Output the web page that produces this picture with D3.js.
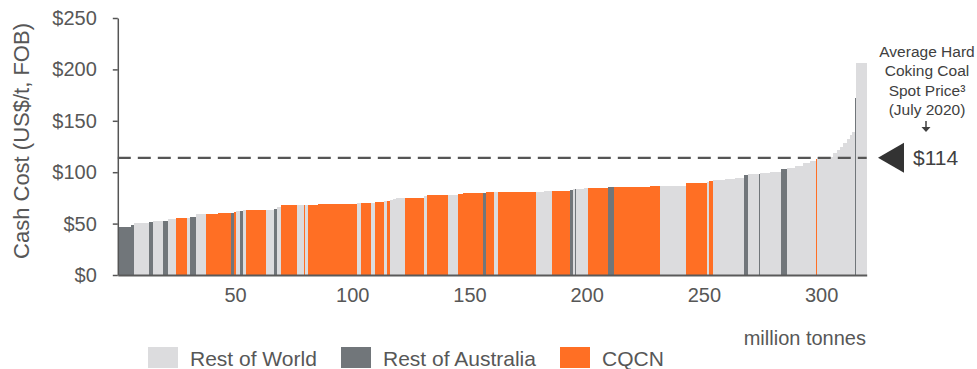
<!DOCTYPE html>
<html>
<head>
<meta charset="utf-8">
<script src="https://cdn.jsdelivr.net/npm/d3@7"></script>
<style>
  html, body { margin: 0; padding: 0; background: #fff; }
  svg { display: block; font-family: "Liberation Sans", Arial, sans-serif; }
</style>
</head>
<body>
<svg id="chart" width="977" height="369"></svg>
<script>
// ---- data ----
const categories = ["Rest of World", "Rest of Australia", "CQCN"];
const categoryCodes = ["W", "A", "C"];
// per-bar: category code, width (million tonnes), cash cost (US$/t FOB)
const barGroup = ["A","A","W","A","W","A","W","C","W","A","W","C","C","A","C","W","A","W","C","W","A","W","C","W","C","W","C","C","W","C","W","C","W","C","W","W","W","C","W","C","W","C","C","A","C","W","C","W","W","C","A","W","A","W","W","C","A","C","C","W","C","W","C","W","W","W","A","W","A","W","W","A","W","W","W","W","C","W","W","W","W","W","W","W","W","A","W"];
const barWidth = [5.6,1.3,6.4,1.6,4.5,2.0,3.4,4.7,1.3,2.4,4.4,5.2,5.4,1.3,0.9,1.7,1.3,1.3,8.5,3.4,1.3,1.7,6.7,3.1,0.55,1.15,4.4,16.4,1.7,4.4,1.7,3.8,1.15,1.4,1.3,1.3,3.8,8.1,1.15,9.1,4.3,2.3,8.3,1.4,3.4,1.7,16.2,3.4,3.4,7.7,1.4,0.6,0.55,3.4,1.7,8.5,2.6,15.4,4.3,11.0,9.1,0.7,1.7,5.2,4.3,3.7,1.7,4.8,0.45,4.3,4.7,2.4,3.5,3.4,3.0,2.4,0.45,7.1,1.45,1.4,1.4,1.45,1.4,0.7,1.4,0.3,4.7];
const barCost = [46.7,48.6,50.9,51.9,52.9,52.9,54.8,55.8,55.8,56.7,59.3,59.7,60.6,60.6,61.6,62.6,62.6,63.5,63.5,63.5,64.5,66.5,68.1,68.1,68.1,68.1,68.1,69.1,69.7,70.3,70.3,71.3,72.3,72.3,73,74,74.9,75.2,77.2,78.1,78.1,79.1,79.8,80.1,80.7,80.7,80.7,80.7,81.7,82,82.7,83.2,83.7,83.7,84.6,84.6,85.6,85.6,86.6,86.6,89.5,90,91.4,92.4,93.2,94.5,97.3,98.6,98.6,99.2,100.5,102.8,104.5,106.5,108.5,110.5,112.5,115,118.4,121.6,124.8,128,132,136,139.4,172,206];
const xTicks = [50, 100, 150, 200, 250, 300];
const yTicks = [0, 50, 100, 150, 200, 250];
const spotPrice = 114;
const spotNoteLines = ["Average Hard", "Coking Coal", "Spot Price³", "(July 2020)"];
const xAxisTitle = "million tonnes";
const yAxisTitle = "Cash Cost (US$/t, FOB)";

// ---- build bars ----
let cum = 0;
const bars = barWidth.map((w, i) => {
  const b = { x0: cum, x1: cum + w, v: barCost[i], g: barGroup[i] };
  cum += w;
  return b;
});
const total = cum;

const colors = { W: "#dcdcde", A: "#71767a", C: "#ff6f24" };
const textColor = "#575757";
const font = "'Liberation Sans', Arial, sans-serif";

const svg = d3.select("#chart");
const x = d3.scaleLinear().domain([0, total]).range([117.8, 866.7]);
const y = d3.scaleLinear().domain([0, 250]).range([275, 18]);

// bars
svg.append("g")
  .attr("shape-rendering", "crispEdges")
  .selectAll("rect").data(bars).join("rect")
  .attr("x", d => x(d.x0))
  .attr("width", d => Math.max(0.8, x(d.x1) - x(d.x0)))
  .attr("y", d => y(d.v))
  .attr("height", d => y(0) - y(d.v))
  .attr("fill", d => colors[d.g]);

// dashed spot price line
svg.append("line")
  .attr("x1", x(0)).attr("x2", x(total))
  .attr("y1", y(spotPrice)).attr("y2", y(spotPrice))
  .attr("stroke", "#555").attr("stroke-width", 2.2)
  .attr("stroke-dasharray", "13,7");

// y axis
const yAxis = svg.append("g")
  .attr("transform", `translate(${x(0)},0)`)
  .call(d3.axisLeft(y).tickValues(yTicks).tickFormat(d => "$" + d)
    .tickSize(5).tickSizeOuter(0).tickPadding(16));
yAxis.select(".domain").attr("stroke", "#555").attr("stroke-width", 1.5);
yAxis.selectAll(".tick line").attr("stroke", "#555").attr("stroke-width", 1.5);
yAxis.selectAll("text").attr("fill", textColor).attr("font-size", 20)
  .attr("font-family", font);

// x axis
const xAxis = svg.append("g")
  .attr("transform", `translate(0,${y(0)})`)
  .call(d3.axisBottom(x).tickValues(xTicks).tickSize(0).tickSizeOuter(0).tickPadding(13));
xAxis.select(".domain").attr("stroke", "#5a5a5a").attr("stroke-width", 2);
xAxis.selectAll("text").attr("fill", textColor).attr("font-size", 20)
  .attr("font-family", font);

// axis titles
svg.append("text")
  .attr("transform", `translate(29,141) rotate(-90)`)
  .attr("text-anchor", "middle")
  .attr("fill", textColor).attr("font-size", 22)
  .text(yAxisTitle);

svg.append("text")
  .attr("x", 866).attr("y", 345)
  .attr("text-anchor", "end")
  .attr("fill", textColor).attr("font-size", 20)
  .text(xAxisTitle);

// spot price annotation
const yS = y(spotPrice);
svg.append("path")
  .attr("d", `M878,${yS} L904,${yS - 15} L904,${yS + 15} Z`)
  .attr("fill", "#333");
svg.append("text")
  .attr("x", 913).attr("y", yS + 7.5)
  .attr("fill", "#404040").attr("font-size", 21)
  .text("$" + spotPrice);

const note = svg.append("text")
  .attr("text-anchor", "middle")
  .attr("fill", "#404040").attr("font-size", 15.5);
spotNoteLines.forEach((t, i) => {
  note.append("tspan").attr("x", 927).attr("y", 57 + i * 19.3).text(t);
});
// small down arrow
svg.append("line").attr("x1", 926).attr("x2", 926).attr("y1", 121).attr("y2", 129)
  .attr("stroke", "#404040").attr("stroke-width", 1.5);
svg.append("path").attr("d", "M921.5,127 L930.5,127 L926,132 Z").attr("fill", "#404040");

// legend
const legendItems = [
  { name: categories[0], code: categoryCodes[0], sx: 148, tx: 190 },
  { name: categories[1], code: categoryCodes[1], sx: 341, tx: 383 },
  { name: categories[2], code: categoryCodes[2], sx: 560, tx: 602 }
];
const lg = svg.append("g");
legendItems.forEach(it => {
  lg.append("rect").attr("x", it.sx).attr("y", 347).attr("width", 30).attr("height", 21)
    .attr("fill", colors[it.code]);
  lg.append("text").attr("x", it.tx).attr("y", 366)
    .attr("fill", textColor).attr("font-size", 21).text(it.name);
});
</script>
</body>
</html>
